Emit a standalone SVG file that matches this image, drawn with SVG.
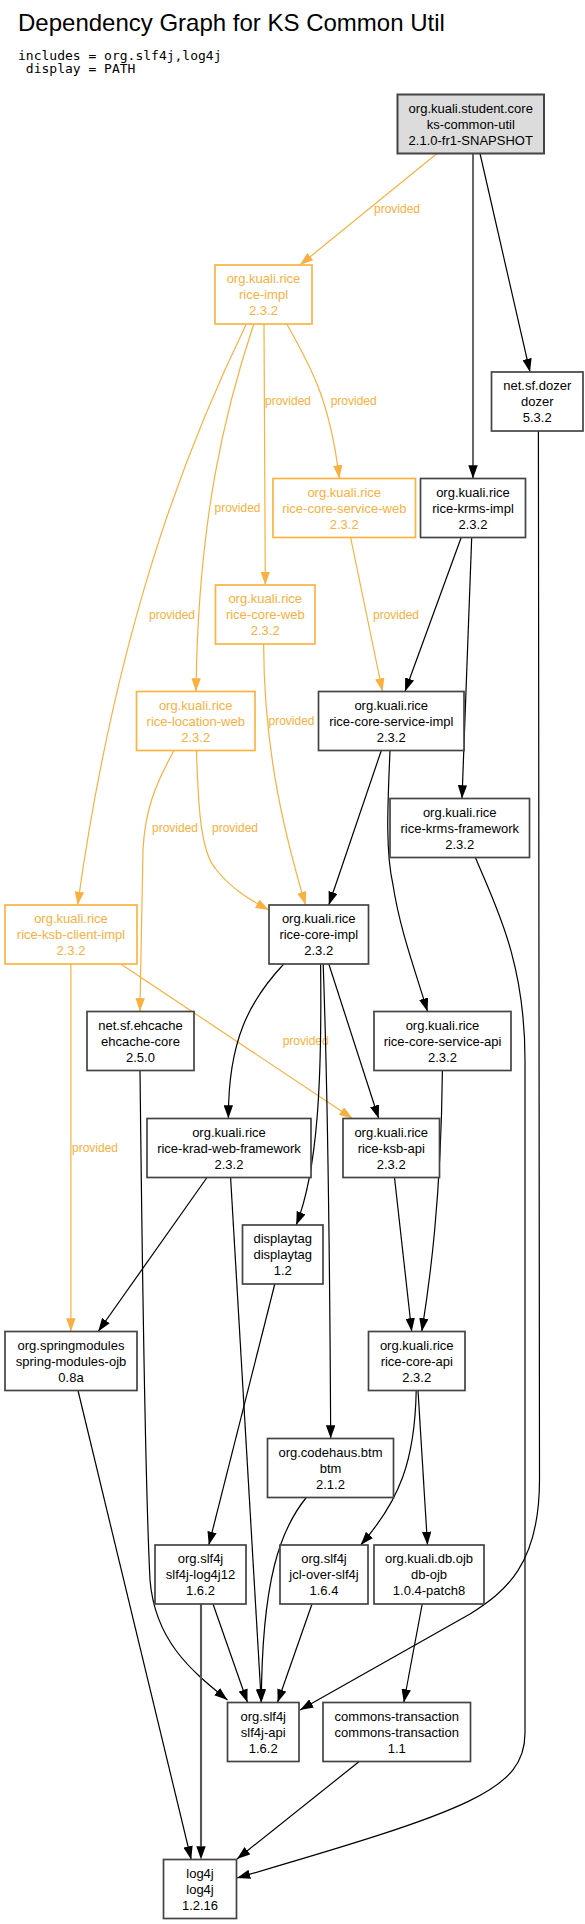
<svg xmlns="http://www.w3.org/2000/svg" width="585" height="1924" viewBox="0 0 585 1924">
<style>
.bg{fill:#ffffff}
.n rect{fill:#ffffff;stroke:#444444;stroke-width:1.7}
.n text{font-family:"Liberation Sans",Arial,sans-serif;font-size:13px;text-anchor:middle;fill:#000000}
.o rect{fill:#ffffff;stroke:#fbb444;stroke-width:1.7}
.o text{font-family:"Liberation Sans",Arial,sans-serif;font-size:13px;text-anchor:middle;fill:#f9b040}
.root rect{fill:#dcdcdc;stroke:#444444;stroke-width:2}
.e{fill:none;stroke:#000000;stroke-width:1.2;marker-end:url(#ab)}
.p{fill:none;stroke:#f9b040;stroke-width:1.2;marker-end:url(#ao)}
.t{fill:none;stroke:#555555;stroke-width:2.1;marker-end:url(#ab0)}
.lbl{font-family:"Liberation Sans",Arial,sans-serif;font-size:12px;fill:#f9b040}
.title{font-family:"Liberation Sans",Arial,sans-serif;font-size:24px;fill:#000000}
.mono{font-family:"DejaVu Sans Mono","Liberation Mono",monospace;font-size:13px;fill:#000000;white-space:pre}
</style>
<defs>
<marker id="ab" markerUnits="userSpaceOnUse" viewBox="0 0 13.3 9.4" markerWidth="13.3" markerHeight="9.4" refX="13.3" refY="4.7" orient="auto"><path d="M0,0 L13.3,4.7 L0,9.4 z" fill="#000000"/></marker>
<marker id="ab0" markerUnits="userSpaceOnUse" viewBox="0 0 13.3 9.4" markerWidth="13.3" markerHeight="9.4" refX="0" refY="4.7" orient="auto"><path d="M0,0 L13.3,4.7 L0,9.4 z" fill="#000000"/></marker>
<marker id="ao" markerUnits="userSpaceOnUse" viewBox="0 0 13.3 9.4" markerWidth="13.3" markerHeight="9.4" refX="13.3" refY="4.7" orient="auto"><path d="M0,0 L13.3,4.7 L0,9.4 z" fill="#f9b040"/></marker>
</defs>
<rect class="bg" x="0" y="0" width="585" height="1924"/>
<text class="title" x="18" y="31">Dependency Graph for KS Common Util</text>
<text class="mono" x="18" y="60">includes = org.slf4j,log4j</text>
<text class="mono" x="18" y="73"> display = PATH</text>

<g id="edges">
<path class="p" d="M437,153.5 L300,265"/>
<text class="lbl" x="374" y="213">provided</text>
<path class="e" d="M473,153.5 L473,478.5"/>
<path class="e" d="M480,153.5 L530,372"/>
<path class="p" d="M246.3,324 C200,420 120,600 77.6,905"/>
<text class="lbl" x="149" y="619">provided</text>
<path class="p" d="M253.8,324 C225,410 198,520 196,691.5"/>
<text class="lbl" x="214.5" y="512">provided</text>
<path class="p" d="M264,324 L265.3,585"/>
<text class="lbl" x="265" y="405">provided</text>
<path class="p" d="M286.8,324 C310,365 330,400 339.3,478.5"/>
<text class="lbl" x="330.7" y="405">provided</text>
<path class="p" d="M350.6,537.5 L382.5,691.5"/>
<text class="lbl" x="373" y="619">provided</text>
<path class="e" d="M461.2,537.5 L405,691.5"/>
<path class="e" d="M471.7,537.5 L462,798.5"/>
<path class="e" d="M538.4,431 L539.5,1480 C539.5,1565 505,1592 470,1614 L300,1710"/>
<path class="e" d="M475.4,857.5 C495,905 525,960 525,1060 L525,1733 C525,1790 470,1810 237,1878"/>
<path class="p" d="M263.6,644 C264,740 280,820 305.6,905"/>
<text class="lbl" x="268.5" y="725">provided</text>
<path class="p" d="M174,750.5 C155,785 145,810 143,850 L139.9,1011.5"/>
<text class="lbl" x="152" y="832">provided</text>
<path class="p" d="M196.5,750.5 C198,800 200,850 215,868 C230,888 250,900 269,910"/>
<text class="lbl" x="212" y="832">provided</text>
<path class="e" d="M381.3,750.5 L328.8,905"/>
<path class="e" d="M390,750.5 C388,800 385,850 393,885 C400,930 415,970 427.5,1011.5"/>
<path class="p" d="M120.7,964 L352.5,1118.5"/>
<text class="lbl" x="282.7" y="1045">provided</text>
<path class="p" d="M70.9,964 L70.9,1331.5"/>
<text class="lbl" x="72" y="1152">provided</text>
<path class="e" d="M283.8,964 C250,1000 228,1040 228.4,1118.5"/>
<path class="e" d="M320.6,964 C322,1080 318,1170 296.2,1225"/>
<path class="e" d="M323.2,964 C328,1100 330,1300 330.7,1438.5"/>
<path class="e" d="M328.8,964 L378.7,1118.5"/>
<path class="e" d="M140,1070.5 C142,1250 146,1500 150,1580 C155,1640 190,1670 227.5,1700"/>
<path class="e" d="M230.6,1177.5 L261.3,1702.5"/>
<path class="e" d="M207,1177.5 L98.2,1331.5"/>
<path class="e" d="M442.4,1070.5 C441,1200 430,1280 421.8,1331.5"/>
<path class="e" d="M394.5,1177.5 L411.7,1331.5"/>
<path class="e" d="M274.8,1284 L208.8,1545"/>
<path class="e" d="M416.2,1390.5 C415,1460 400,1500 360.7,1545"/>
<path class="e" d="M418,1390.5 L427.5,1545"/>
<path class="e" d="M78,1390.5 L191.2,1859.5"/>
<path class="e" d="M306.3,1497.5 C280,1530 262,1580 261.3,1702.5"/>
<path class="t" d="M201,1604 L201,1846.2"/>
<path class="e" d="M213,1604 L247.5,1702.5"/>
<path class="e" d="M312,1604 L277.5,1702.5"/>
<path class="e" d="M422.2,1604 L403.8,1702.5"/>
<path class="e" d="M359.2,1761.5 L237,1859"/>
</g>

<g id="n1" class="n root"><rect x="397.5" y="94.5" width="146.5" height="59"/><text x="470.75" y="112.5">org.kuali.student.core</text><text x="470.75" y="128.5">ks-common-util</text><text x="470.75" y="144.5">2.1.0-fr1-SNAPSHOT</text></g>
<g id="n2" class="o"><rect x="215" y="265" width="97" height="59"/><text x="263.5" y="283">org.kuali.rice</text><text x="263.5" y="299">rice-impl</text><text x="263.5" y="315">2.3.2</text></g>
<g id="n3" class="n"><rect x="491.5" y="372" width="91.5" height="59"/><text x="537.25" y="390">net.sf.dozer</text><text x="537.25" y="406">dozer</text><text x="537.25" y="422">5.3.2</text></g>
<g id="n4" class="o"><rect x="273" y="478.5" width="142.5" height="59"/><text x="344.25" y="496.5">org.kuali.rice</text><text x="344.25" y="512.5">rice-core-service-web</text><text x="344.25" y="528.5">2.3.2</text></g>
<g id="n5" class="n"><rect x="420.5" y="478.5" width="105" height="59"/><text x="473" y="496.5">org.kuali.rice</text><text x="473" y="512.5">rice-krms-impl</text><text x="473" y="528.5">2.3.2</text></g>
<g id="n6" class="o"><rect x="215.5" y="585" width="99.5" height="59"/><text x="265.25" y="603">org.kuali.rice</text><text x="265.25" y="619">rice-core-web</text><text x="265.25" y="635">2.3.2</text></g>
<g id="n7" class="o"><rect x="136.5" y="691.5" width="118.5" height="59"/><text x="195.75" y="709.5">org.kuali.rice</text><text x="195.75" y="725.5">rice-location-web</text><text x="195.75" y="741.5">2.3.2</text></g>
<g id="n8" class="n"><rect x="318.5" y="691.5" width="145.5" height="59"/><text x="391.25" y="709.5">org.kuali.rice</text><text x="391.25" y="725.5">rice-core-service-impl</text><text x="391.25" y="741.5">2.3.2</text></g>
<g id="n9" class="n"><rect x="390" y="798.5" width="139.5" height="59"/><text x="459.75" y="816.5">org.kuali.rice</text><text x="459.75" y="832.5">rice-krms-framework</text><text x="459.75" y="848.5">2.3.2</text></g>
<g id="n10" class="o"><rect x="5" y="905" width="132" height="59"/><text x="71" y="923">org.kuali.rice</text><text x="71" y="939">rice-ksb-client-impl</text><text x="71" y="955">2.3.2</text></g>
<g id="n11" class="n"><rect x="269" y="905" width="99.5" height="59"/><text x="318.75" y="923">org.kuali.rice</text><text x="318.75" y="939">rice-core-impl</text><text x="318.75" y="955">2.3.2</text></g>
<g id="n12" class="n"><rect x="87" y="1011.5" width="107" height="59"/><text x="140.5" y="1029.5">net.sf.ehcache</text><text x="140.5" y="1045.5">ehcache-core</text><text x="140.5" y="1061.5">2.5.0</text></g>
<g id="n13" class="n"><rect x="374" y="1011.5" width="137" height="59"/><text x="442.5" y="1029.5">org.kuali.rice</text><text x="442.5" y="1045.5">rice-core-service-api</text><text x="442.5" y="1061.5">2.3.2</text></g>
<g id="n14" class="n"><rect x="147" y="1118.5" width="164" height="59"/><text x="229" y="1136.5">org.kuali.rice</text><text x="229" y="1152.5">rice-krad-web-framework</text><text x="229" y="1168.5">2.3.2</text></g>
<g id="n15" class="n"><rect x="343" y="1118.5" width="96.5" height="59"/><text x="391.25" y="1136.5">org.kuali.rice</text><text x="391.25" y="1152.5">rice-ksb-api</text><text x="391.25" y="1168.5">2.3.2</text></g>
<g id="n16" class="n"><rect x="242.5" y="1225" width="80.5" height="59"/><text x="282.75" y="1243">displaytag</text><text x="282.75" y="1259">displaytag</text><text x="282.75" y="1275">1.2</text></g>
<g id="n17" class="n"><rect x="5" y="1331.5" width="132" height="59"/><text x="71" y="1349.5">org.springmodules</text><text x="71" y="1365.5">spring-modules-ojb</text><text x="71" y="1381.5">0.8a</text></g>
<g id="n18" class="n"><rect x="368.5" y="1331.5" width="96.5" height="59"/><text x="416.75" y="1349.5">org.kuali.rice</text><text x="416.75" y="1365.5">rice-core-api</text><text x="416.75" y="1381.5">2.3.2</text></g>
<g id="n19" class="n"><rect x="267.5" y="1438.5" width="126" height="59"/><text x="330.5" y="1456.5">org.codehaus.btm</text><text x="330.5" y="1472.5">btm</text><text x="330.5" y="1488.5">2.1.2</text></g>
<g id="n20" class="n"><rect x="155" y="1545" width="91" height="59"/><text x="200.5" y="1563">org.slf4j</text><text x="200.5" y="1579">slf4j-log4j12</text><text x="200.5" y="1595">1.6.2</text></g>
<g id="n21" class="n"><rect x="280" y="1545" width="88" height="59"/><text x="324" y="1563">org.slf4j</text><text x="324" y="1579">jcl-over-slf4j</text><text x="324" y="1595">1.6.4</text></g>
<g id="n22" class="n"><rect x="374" y="1545" width="110" height="59"/><text x="429" y="1563">org.kuali.db.ojb</text><text x="429" y="1579">db-ojb</text><text x="429" y="1595">1.0.4-patch8</text></g>
<g id="n23" class="n"><rect x="227.5" y="1702.5" width="71.5" height="59"/><text x="263.25" y="1720.5">org.slf4j</text><text x="263.25" y="1736.5">slf4j-api</text><text x="263.25" y="1752.5">1.6.2</text></g>
<g id="n24" class="n"><rect x="323" y="1702.5" width="147.5" height="59"/><text x="396.75" y="1720.5">commons-transaction</text><text x="396.75" y="1736.5">commons-transaction</text><text x="396.75" y="1752.5">1.1</text></g>
<g id="n25" class="n"><rect x="163.5" y="1859.5" width="73" height="59"/><text x="200" y="1877.5">log4j</text><text x="200" y="1893.5">log4j</text><text x="200" y="1909.5">1.2.16</text></g>
</svg>
